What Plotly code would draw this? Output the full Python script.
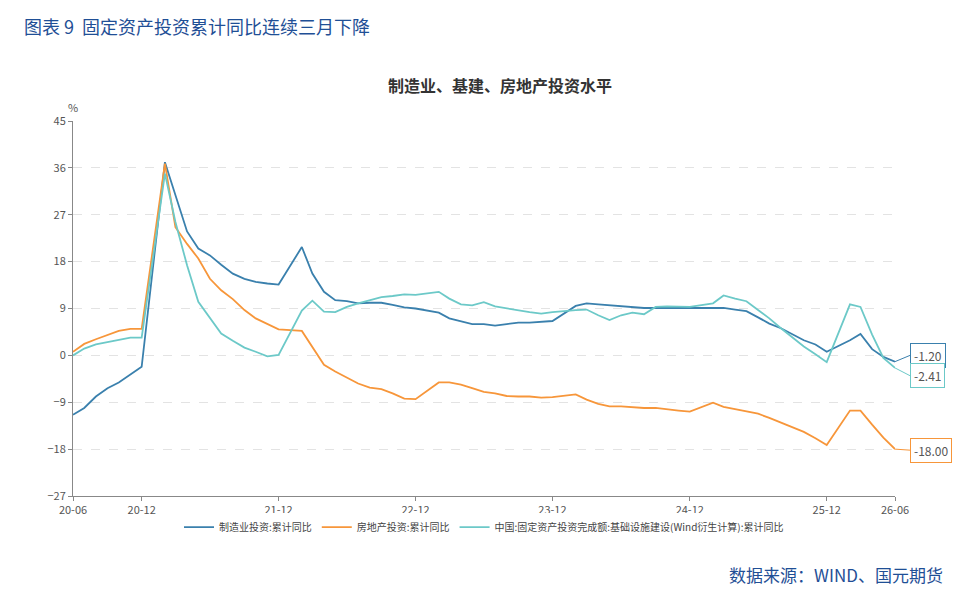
import plotly.graph_objects as go

# monthly dates (Jan skipped: Jan-Feb cumulative reported together)
months = (
    ["2020-%02d" % m for m in range(6, 13)]
    + ["%d-%02d" % (y, m) for y in (2021, 2022, 2023, 2024, 2025) for m in range(2, 13)]
    + ["2026-%02d" % m for m in range(2, 7)]
)
dates = [m + "-01" for m in months]

manufacturing = [
    -11.4, -10.1, -7.9, -6.3, -5.2, -3.6, -2.2,
    37.1, 30.7, 23.8, 20.5, 19.2, 17.4, 15.7, 14.7, 14.1, 13.8, 13.6,
    20.8, 15.7, 12.2, 10.6, 10.4, 10.0, 10.1, 10.1, 9.7, 9.2, 9.0,
    8.2, 7.1, 6.5, 6.0, 6.0, 5.7, 6.0, 6.3, 6.3, 6.4, 6.6,
    9.5, 10.0, 9.8, 9.6, 9.5, 9.3, 9.1, 9.1, 9.1, 9.2, 9.2,
    9.1, 9.1, 8.8, 8.5, 7.3, 6.1, 5.2, 4.0, 2.9, 2.1, 0.7,
    2.9, 4.1, 1.2, -0.3, -1.2,
]
real_estate = [
    0.7, 2.2, 3.1, 3.9, 4.7, 5.1, 5.1,
    36.8, 24.6, 21.4, 18.6, 14.7, 12.5, 10.8, 8.7, 7.1, 6.0, 5.0,
    4.7, 1.7, -1.8, -3.1, -4.3, -5.4, -6.2, -6.5, -7.3, -8.3, -8.4,
    -5.2, -5.2, -5.6, -6.3, -7.0, -7.3, -7.8, -7.9, -7.9, -8.1, -8.0,
    -7.5, -8.5, -9.3, -9.8, -9.8, -10.0, -10.1, -10.1, -10.4, -10.6, -10.8,
    -9.1, -9.9, -10.3, -10.7, -11.2, -12.0, -12.9, -13.9, -14.7, -15.9, -17.2,
    -10.6, -10.6, -13.3, -15.8, -18.0,
]
infrastructure = [
    0.0, 1.3, 2.1, 2.5, 3.0, 3.4, 3.4,
    34.9, 25.6, 17.3, 10.3, 7.1, 4.2, 2.8, 1.5, 0.7, -0.2, 0.1,
    8.6, 10.5, 8.4, 8.3, 9.3, 10.0, 10.6, 11.2, 11.4, 11.7, 11.6,
    12.2, 10.9, 9.8, 9.6, 10.2, 9.4, 9.0, 8.7, 8.3, 8.0, 8.3,
    8.7, 8.8, 7.7, 6.8, 7.7, 8.2, 7.9, 9.3, 9.4, 9.4, 9.3,
    10.0, 11.5, 10.9, 10.4, 8.7, 7.1, 5.2, 3.4, 1.7, 0.2, -1.3,
    9.8, 9.3, 4.0, -0.5, -2.41,
]

names = ["制造业投资:累计同比", "房地产投资:累计同比",
         "中国:固定资产投资完成额:基础设施建设(Wind衍生计算):累计同比"]
colors = ["#3a80ad", "#f7963a", "#6cc9c8"]
series = [manufacturing, real_estate, infrastructure]
end_labels = ["-1.20", "-18.00", "-2.41"]
label_y = [0.0, -18.2, -3.9]

y_ticks = [45, 36, 27, 18, 9, 0, -9, -18, -27]
x_ticks = ["2020-06-01", "2020-12-01", "2021-12-01", "2022-12-01",
           "2023-12-01", "2024-12-01", "2025-12-01", "2026-06-01"]
x_tick_text = ["20-06", "20-12", "21-12", "22-12", "23-12", "24-12", "25-12", "26-06"]

fig = go.Figure()
for name, vals, c in zip(names, series, colors):
    fig.add_trace(go.Scatter(x=dates, y=vals, name=name, mode="lines",
                             line=dict(color=c, width=1.8)))

for vals, c, txt, ly in zip(series, colors, end_labels, label_y):
    fig.add_annotation(x=dates[-1], y=vals[-1], ax=15, ay=ly, ayref="y",
                       text=txt, showarrow=True, arrowhead=0, arrowwidth=1,
                       arrowcolor=c, bordercolor=c, borderwidth=1,
                       borderpad=3, bgcolor="white",
                       font=dict(size=12, color="#555"), xanchor="left")

fig.add_annotation(text="图表 9  固定资产投资累计同比连续三月下降", xref="paper", yref="paper",
                   x=-0.062, y=1.292, xanchor="left", yanchor="top", showarrow=False,
                   font=dict(size=18, color="#1f4f96"))
fig.add_annotation(text="<b>制造业、基建、房地产投资水平</b>", xref="paper", yref="paper",
                   x=0.52, y=1.096, xanchor="center", yanchor="middle", showarrow=False,
                   font=dict(size=16, color="#333"))
fig.add_annotation(text="%", xref="paper", yref="paper", x=0, y=1.037,
                   xanchor="center", yanchor="middle", showarrow=False,
                   font=dict(size=11, color="#555"))
fig.add_annotation(text="数据来源：WIND、国元期货", xref="paper", yref="paper",
                   x=1.061, y=-0.21, xanchor="right", yanchor="middle", showarrow=False,
                   font=dict(size=17, color="#1f4f96"))

fig.update_layout(
    width=971, height=593,
    margin=dict(l=65, r=84, t=113, b=105),
    plot_bgcolor="white", paper_bgcolor="white",
    font=dict(family="Noto Sans CJK SC", color="#555", size=11),
    showlegend=True,
    legend=dict(orientation="h", x=0.5, xanchor="center", y=-0.083, yanchor="middle",
                font=dict(size=10, color="#444")),
    xaxis=dict(type="date", range=["2020-06-01", "2026-06-01"],
               tickvals=x_ticks, ticktext=x_tick_text, showgrid=False,
               showline=True, linecolor="#888", ticks="outside", ticklen=4,
               tickcolor="#888"),
    yaxis=dict(range=[-27, 45], tickvals=y_ticks, showgrid=True,
               gridcolor="#e3e3e3", griddash="dash", zeroline=False,
               showline=True, linecolor="#888", ticks="outside", ticklen=4,
               tickcolor="#888"),
)

fig.write_html("out.html")
